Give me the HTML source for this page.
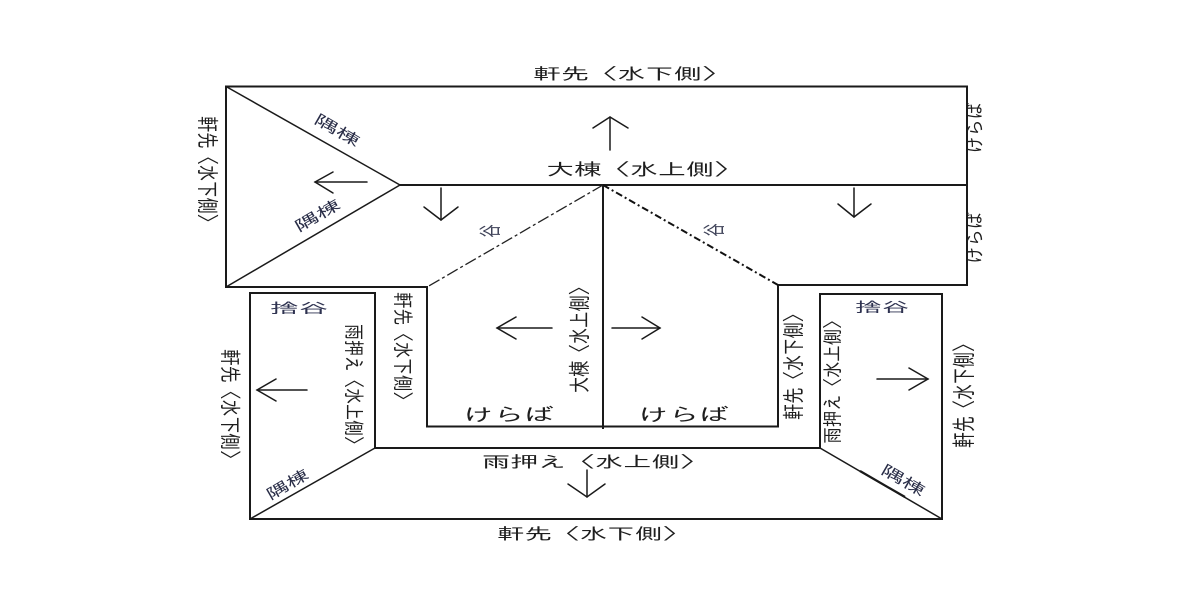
<!DOCTYPE html>
<html><head><meta charset="utf-8"><style>
html,body{margin:0;padding:0;background:#fff;}
svg{display:block;}
text{font-family:"Liberation Sans","IPAGothic","Noto Sans CJK JP",sans-serif;fill:#1e1e1e;}
</style></head><body>
<svg width="1200" height="600" viewBox="0 0 1200 600" xmlns="http://www.w3.org/2000/svg">
<rect width="1200" height="600" fill="#fff"/>
<g stroke="#1a1a1a" stroke-width="2" fill="none" stroke-linecap="square">
  <line x1="226" y1="86.5" x2="967" y2="86.5"/>
  <line x1="226" y1="86.5" x2="226" y2="287"/>
  <line x1="967" y1="86.5" x2="967" y2="285"/>
  <line x1="400" y1="185" x2="967" y2="185"/>
  <line x1="226" y1="287" x2="427" y2="287"/>
  <line x1="778" y1="285" x2="967" y2="285"/>
  <line x1="427" y1="287" x2="427" y2="426.5"/>
  <line x1="778" y1="285" x2="778" y2="426.5"/>
  <line x1="427" y1="426.5" x2="778" y2="426.5"/>
  <line x1="603" y1="185" x2="603" y2="428"/>
  <line x1="250" y1="293" x2="375" y2="293"/>
  <line x1="250" y1="293" x2="250" y2="519"/>
  <line x1="375" y1="293" x2="375" y2="448"/>
  <line x1="375" y1="448" x2="820" y2="448"/>
  <line x1="820" y1="294" x2="820" y2="448"/>
  <line x1="820" y1="294" x2="942" y2="294"/>
  <line x1="942" y1="294" x2="942" y2="519"/>
  <line x1="250" y1="519" x2="942" y2="519"/>
</g>
<g stroke="#1a1a1a" stroke-width="1.5" fill="none">
  <line x1="226" y1="86.5" x2="400" y2="185"/>
  <line x1="226" y1="287" x2="400" y2="185"/>
  <line x1="375" y1="448" x2="250" y2="519"/>
  <line x1="820" y1="448" x2="942" y2="519"/>
  <line x1="860" y1="471" x2="905" y2="497" stroke-width="2.2"/>
</g>
<line x1="603" y1="185" x2="427" y2="287" stroke="#222" stroke-width="1.3" stroke-dasharray="12 3 3 3" fill="none"/>
<line x1="603" y1="185" x2="778" y2="285" stroke="#111" stroke-width="2" stroke-dasharray="7 3 2 3" fill="none"/>

<g stroke="#1a1a1a" stroke-width="1.5" fill="none" stroke-linecap="round">
  <line x1="610" y1="117" x2="610" y2="150"/><polyline points="593,128 610,117 628,128"/>
  <line x1="315" y1="182" x2="367" y2="182"/><polyline points="333,172 315,182 333,193"/>
  <line x1="441" y1="188" x2="441" y2="220"/><polyline points="424,207 441,220 458,207"/>
  <line x1="854" y1="188" x2="854" y2="217"/><polyline points="838,204 854,217 871,204"/>
  <line x1="497" y1="328" x2="552" y2="328"/><polyline points="516,317 497,328 516,339"/>
  <line x1="612" y1="328" x2="660" y2="328"/><polyline points="642,317 660,328 642,339"/>
  <line x1="257" y1="390" x2="307" y2="390"/><polyline points="276,379 257,390 276,401"/>
  <line x1="877" y1="379" x2="928" y2="379"/><polyline points="909,368 928,379 909,390"/>
  <line x1="587" y1="470" x2="587" y2="497"/><polyline points="568,484 587,497 605,484"/>
</g>

<text x="533" y="75" font-size="16" dominant-baseline="central" textLength="197" lengthAdjust="spacingAndGlyphs">軒先〈水下側〉</text>
<text x="546" y="170" font-size="17" dominant-baseline="central" textLength="196" lengthAdjust="spacingAndGlyphs">大棟〈水上側〉</text>
<text x="482" y="463" font-size="16" dominant-baseline="central" textLength="226" lengthAdjust="spacingAndGlyphs">雨押え〈水上側〉</text>
<text x="497" y="535" font-size="16" dominant-baseline="central" textLength="193" lengthAdjust="spacingAndGlyphs">軒先〈水下側〉</text>
<text x="463" y="415" font-size="18" dominant-baseline="central" textLength="91" lengthAdjust="spacingAndGlyphs">けらば</text>
<text x="638" y="415" font-size="18" dominant-baseline="central" textLength="91" lengthAdjust="spacingAndGlyphs">けらば</text>
<text x="270" y="308" font-size="14" dominant-baseline="central" textLength="58" lengthAdjust="spacingAndGlyphs" style="fill:#2e3250">捨谷</text>
<text x="855" y="307" font-size="14" dominant-baseline="central" textLength="54" lengthAdjust="spacingAndGlyphs" style="fill:#2e3250">捨谷</text>

<g font-size="16" text-anchor="middle" dominant-baseline="central">
  <text transform="translate(206.5,173) scale(1.4,1) rotate(90)" textLength="114" lengthAdjust="spacingAndGlyphs">軒先〈水下側〉</text>
  <text transform="translate(580.5,336) scale(1.4,1) rotate(-90)" textLength="114" lengthAdjust="spacingAndGlyphs">大棟〈水上側〉</text>
  <text transform="translate(403,350) scale(1.3,1) rotate(90)" textLength="116" lengthAdjust="spacingAndGlyphs">軒先〈水下側〉</text>
  <text transform="translate(354,388) scale(1.3,1) rotate(90)" textLength="128" lengthAdjust="spacingAndGlyphs">雨押え〈水上側〉</text>
  <text transform="translate(229,408) scale(1.35,1) rotate(90)" textLength="118" lengthAdjust="spacingAndGlyphs">軒先〈水下側〉</text>
  <text transform="translate(794.5,363) scale(1.4,1) rotate(-90)" textLength="114" lengthAdjust="spacingAndGlyphs">軒先〈水下側〉</text>
  <text transform="translate(833,378) scale(1.25,1) rotate(-90)" textLength="131" lengthAdjust="spacingAndGlyphs">雨押え〈水上側〉</text>
  <text transform="translate(965.5,392) scale(1.5,1) rotate(-90)" textLength="112" lengthAdjust="spacingAndGlyphs">軒先〈水下側〉</text>
</g>
<g font-size="14" text-anchor="middle" dominant-baseline="central">
  <text transform="translate(976,128) scale(1.3,1) rotate(-90)" textLength="51" lengthAdjust="spacingAndGlyphs">けらば</text>
  <text transform="translate(976,238) scale(1.3,1) rotate(-90)" textLength="52" lengthAdjust="spacingAndGlyphs">けらば</text>
</g>

<g font-size="15" text-anchor="middle" dominant-baseline="central">
  <text transform="translate(337,131) rotate(30)" textLength="50" lengthAdjust="spacingAndGlyphs" style="fill:#2a2e48">隅棟</text>
  <text transform="translate(318,216) rotate(-30)" textLength="50" lengthAdjust="spacingAndGlyphs" style="fill:#2a2e48">隅棟</text>
  <text transform="translate(288,485) rotate(-30)" textLength="46" lengthAdjust="spacingAndGlyphs" style="fill:#2a2e48">隅棟</text>
  <text transform="translate(903,481) rotate(30)" textLength="48" lengthAdjust="spacingAndGlyphs" style="fill:#2a2e48">隅棟</text>
</g>
<g font-size="15" text-anchor="middle" dominant-baseline="central">
  <text transform="translate(491,231) scale(1.6,0.9) rotate(-90)" style="fill:#3e4258">谷</text>
  <text transform="translate(715,230) scale(1.6,0.9) rotate(-90)" style="fill:#3e4258">谷</text>
</g>
</svg>
</body></html>
